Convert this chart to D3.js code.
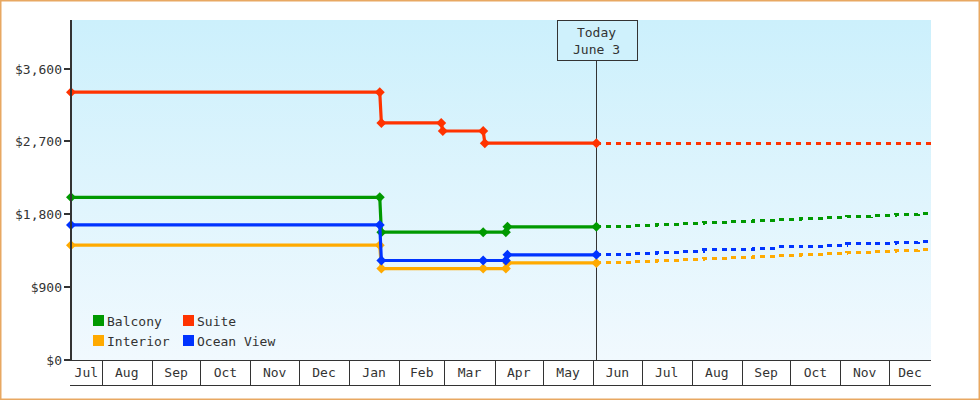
<!DOCTYPE html>
<html><head><meta charset="utf-8">
<script src="https://cdn.jsdelivr.net/npm/d3@7"></script>
<style>
body{margin:0;background:#fff}
svg{display:block}
text{font-family:"DejaVu Sans Mono",monospace;font-size:13px;fill:#333}
</style>
</head><body>
<svg id="chart" width="980" height="400"></svg>
<script>
// ---------- data ----------
const suiteDates   = ["2012-07-13","2013-01-20","2013-01-21","2013-02-27","2013-02-28","2013-03-25","2013-03-26","2013-06-03"];
const suiteValues  = [3309,3309,2929,2929,2829,2829,2679,2679];
const otherDates   = ["2012-07-13","2013-01-20","2013-01-21","2013-03-25","2013-04-08","2013-04-09","2013-06-03"];
const balconyValues   = [2009,2009,1579,1579,1579,1645,1645];
const interiorValues  = [1419,1419,1129,1129,1129,1199,1199];
const oceanViewValues = [1669,1669,1229,1229,1229,1299,1299];

const forecastDates = ["2013-06-03","2013-06-10","2013-06-25","2013-07-10","2013-07-25","2013-08-08","2013-08-23","2013-09-08","2013-09-22","2013-10-07","2013-10-22","2013-11-05","2013-11-20","2013-12-05","2013-12-19","2013-12-27"];
const suiteForecast     = [2679,2679,2679,2679,2679,2679,2679,2679,2679,2679,2679,2679,2679,2679,2679,2679];
const balconyForecast   = [1645,1652,1659,1672,1689,1700,1712,1724,1732,1749,1757,1770,1787,1794,1811,1811];
const interiorForecast  = [1199,1207,1214,1226,1244,1256,1268,1276,1288,1305,1318,1330,1342,1355,1367,1367];
const oceanViewForecast = [1299,1309,1317,1334,1346,1359,1371,1383,1396,1408,1420,1433,1445,1457,1470,1470];

const yTicks = [0,900,1800,2700,3600];
const todayDate = "2013-06-03";
const todayLabel = ["Today","June 3"];
const legendRows = [["Balcony","Suite"],["Interior","Ocean View"]];
const colors = {"Suite":"#ff3300","Balcony":"#009900","Interior":"#ffaa00","Ocean View":"#0033ff"};

// ---------- setup ----------
const parse = d3.timeParse("%Y-%m-%d");
const svg = d3.select("#chart");
const L = 71, R = 931, T = 20, B = 360;

const x = d3.scaleTime().domain([parse("2012-07-13"), parse("2013-12-27")]).range([L, R]);
const y = d3.scaleLinear().domain([0, 4200]).range([B, T]);

const series = [
  {name:"Suite", dates:suiteDates, values:suiteValues, fdates:forecastDates, fvalues:suiteForecast},
  {name:"Balcony", dates:otherDates, values:balconyValues, fdates:forecastDates, fvalues:balconyForecast},
  {name:"Interior", dates:otherDates, values:interiorValues, fdates:forecastDates, fvalues:interiorForecast},
  {name:"Ocean View", dates:otherDates, values:oceanViewValues, fdates:forecastDates, fvalues:oceanViewForecast}
];

// background gradient
const defs = svg.append("defs");
const grad = defs.append("linearGradient").attr("id","bg").attr("x1",0).attr("y1",0).attr("x2",0).attr("y2",1);
grad.append("stop").attr("offset","0%").attr("stop-color","#ccf0fc");
grad.append("stop").attr("offset","100%").attr("stop-color","#f1f9fe");

svg.append("rect").attr("x",L).attr("y",T).attr("width",R-L).attr("height",B-T).attr("fill","url(#bg)");

// outer border
svg.append("rect").attr("x",0.75).attr("y",0.75).attr("width",978.5).attr("height",398.5)
  .attr("fill","none").attr("stroke","#e8a862").attr("stroke-width",1.5);

// today line and box
const tx = Math.round(x(parse(todayDate))) + 0.5;
svg.append("line").attr("x1",tx).attr("x2",tx).attr("y1",60).attr("y2",B).attr("stroke","#333").attr("stroke-width",1);
svg.append("rect").attr("x",557.5).attr("y",20.5).attr("width",80).attr("height",40)
  .attr("fill","#cff1fc").attr("stroke","#333").attr("stroke-width",1);
svg.selectAll("text.today").data(todayLabel).join("text").attr("class","today")
  .attr("x",tx).attr("y",(d,i)=>37+i*17).attr("text-anchor","middle").text(d=>d);

// lines
const lineSolid = d3.line().x(d=>x(d[0])).y(d=>y(d[1]));
const lineStep = d3.line().x(d=>x(d[0])).y(d=>y(d[1])).curve(d3.curveStepAfter);
const diamond = "M0,-5L5,0L0,5L-5,0Z";

series.forEach(s=>{
  const pts = s.dates.map((d,i)=>[parse(d), s.values[i]]);
  const fpts = s.fdates.map((d,i)=>[parse(d), s.fvalues[i]]);
  const g = svg.append("g");
  g.append("path").attr("d",lineStep(fpts)).attr("fill","none").attr("stroke",colors[s.name])
    .attr("stroke-width",3).attr("stroke-dasharray","5,5").attr("shape-rendering","crispEdges");
  g.append("path").attr("d",lineSolid(pts)).attr("fill","none").attr("stroke",colors[s.name])
    .attr("stroke-width",3.2).attr("stroke-linejoin","round");
  g.selectAll("path.m").data(pts).join("path").attr("class","m")
    .attr("d",diamond).attr("transform",d=>`translate(${x(d[0])},${y(d[1])})`)
    .attr("fill",colors[s.name]);
});

// y axis
svg.append("line").attr("x1",L).attr("x2",L).attr("y1",T).attr("y2",B+1).attr("stroke","#333").attr("stroke-width",2);
const fmt = d3.format("$,");
yTicks.forEach(v=>{
  const yy = Math.round(y(v));
  svg.append("line").attr("x1",64).attr("x2",L).attr("y1",yy).attr("y2",yy).attr("stroke","#333").attr("stroke-width",2);
  svg.append("text").attr("x",62).attr("y",yy).attr("dy","0.35em").attr("text-anchor","end").text(fmt(v));
});

// x axis (month cells)
svg.append("line").attr("x1",L-1).attr("x2",R).attr("y1",360.5).attr("y2",360.5).attr("stroke","#333");
svg.append("line").attr("x1",L-1).attr("x2",R).attr("y1",385.5).attr("y2",385.5).attr("stroke","#333");
const [d0,d1] = x.domain();
const months = d3.timeMonth.range(d3.timeMonth.floor(d0), d1);
months.forEach(m=>{
  const a = Math.max(x(m), L), b = Math.min(x(d3.timeMonth.offset(m,1)), R);
  if (x(m) > L) {
    const xx = Math.round(x(m)) + 0.5;
    svg.append("line").attr("x1",xx).attr("x2",xx).attr("y1",361).attr("y2",385).attr("stroke","#333");
  }
  svg.append("text").attr("x",(a+b)/2).attr("y",377).attr("text-anchor","middle").text(d3.timeFormat("%b")(m));
});

// legend
legendRows.forEach((row,ri)=>{
  row.forEach((name,ci)=>{
    const lx = 93 + ci*90, ly = 315 + ri*20;
    svg.append("rect").attr("x",lx).attr("y",ly).attr("width",11).attr("height",11).attr("fill",colors[name]);
    svg.append("text").attr("x",lx+14).attr("y",ly+10.5).text(name);
  });
});
</script>
</body></html>
